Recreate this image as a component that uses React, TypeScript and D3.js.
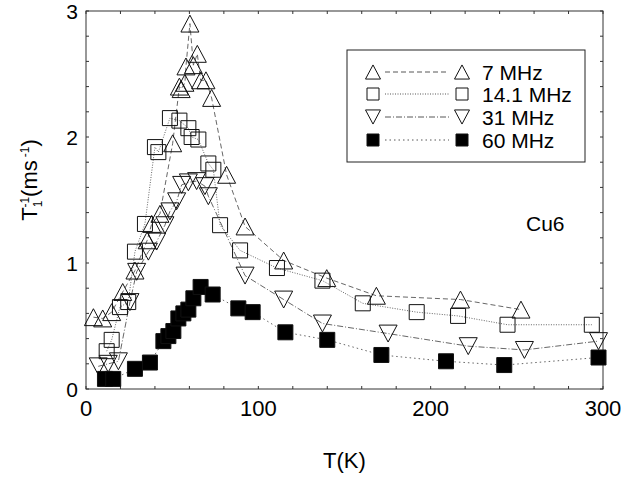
import * as d3 from "d3";
import React, { useEffect, useRef } from "react";

// [T (K), 1/T1 (ms^-1)]
const mhz7: [number, number][] = [
  [4.3, 0.57], [9.7, 0.56], [14.9, 0.61], [21.3, 0.77], [28.4, 0.94], [35.5, 1.18],
  [38.1, 1.31], [42.9, 1.39], [50.3, 1.95], [54.2, 2.4], [55.2, 2.38], [57.4, 2.43],
  [58, 2.56], [60.3, 2.9], [62.3, 2.57], [64.6, 2.66], [66.5, 2.45], [69.6, 2.45],
  [72.9, 2.31], [81.6, 1.7], [92.3, 1.29], [114.7, 1.02], [139.7, 0.88], [168.5, 0.74],
  [217.3, 0.71], [252.4, 0.63],
];
const mhz14: [number, number][] = [
  [12, 0.3], [14.9, 0.39], [19.7, 0.65], [24.5, 0.69], [28.4, 1.09], [34.2, 1.31],
  [40, 1.92], [42, 1.88], [48.7, 2.15], [54.2, 2.13], [59.4, 2.07], [61.3, 2.0],
  [65.2, 1.98], [71, 1.79], [73.9, 1.74], [77.8, 1.3], [89.4, 1.1], [110.8, 0.96],
  [137.2, 0.86], [160.6, 0.68], [191.9, 0.61], [215.9, 0.58], [244.6, 0.51], [293.5, 0.51],
];
const mhz31: [number, number][] = [
  [7.1, 0.18], [12.9, 0.2], [18.8, 0.22], [25.5, 0.69], [29.4, 0.93], [36.2, 1.09],
  [41, 1.17], [45.8, 1.3], [48.7, 1.41], [52.6, 1.49], [55.5, 1.62], [59.4, 1.64],
  [64.2, 1.65], [69, 1.61], [71, 1.53], [92.3, 0.9], [114.7, 0.71], [137.2, 0.52],
  [175.3, 0.44], [221.8, 0.34], [254.4, 0.31], [297.4, 0.38],
];
const mhz60: [number, number][] = [
  [11, 0.08], [15.8, 0.08], [28.4, 0.16], [37.1, 0.21], [44.9, 0.38], [47.8, 0.42],
  [50.7, 0.46], [53.6, 0.56], [56.5, 0.6], [59.4, 0.63], [62.3, 0.72], [66.5, 0.81],
  [73.5, 0.75], [88.4, 0.64], [96.7, 0.61], [115.7, 0.45], [140, 0.39], [171.4, 0.27],
  [208.9, 0.22], [242.7, 0.19], [297.4, 0.25],
];

const seriesNames = ["7 MHz", "14.1 MHz", "31 MHz", "60 MHz"];
const xTicks = [0, 100, 200, 300];
const yTicks = [0, 1, 2, 3];

const font = "Liberation Sans, Arial, sans-serif";

const App = () => {
  const ref = useRef<HTMLDivElement>(null);

  useEffect(() => {
    const width = 622;
    const height = 481;
    const x = d3.scaleLinear().domain([0, 300]).range([86, 603]);
    const y = d3.scaleLinear().domain([0, 3]).range([389, 11]);

    const svg = d3.create("svg")
      .attr("width", width)
      .attr("height", height)
      .style("position", "absolute")
      .style("left", "0px")
      .style("top", "0px")
      .style("background", "#fff");

    // frame with inward ticks on every side
    const frame = svg.append("g").attr("stroke", "#333").attr("stroke-width", 1);
    frame.append("rect")
      .attr("x", x(0)).attr("y", y(3))
      .attr("width", x(300) - x(0)).attr("height", y(0) - y(3))
      .attr("fill", "none");
    const tl = 3;
    d3.range(0, 301, 20).forEach(t => {
      frame.append("line").attr("x1", x(t)).attr("x2", x(t)).attr("y1", y(0)).attr("y2", y(0) - tl);
      frame.append("line").attr("x1", x(t)).attr("x2", x(t)).attr("y1", y(3)).attr("y2", y(3) + tl);
    });
    d3.range(0, 3.01, 0.2).forEach(v => {
      frame.append("line").attr("x1", x(0)).attr("x2", x(0) + tl).attr("y1", y(v)).attr("y2", y(v));
      frame.append("line").attr("x1", x(300)).attr("x2", x(300) - tl).attr("y1", y(v)).attr("y2", y(v));
    });

    // tick labels
    xTicks.forEach(t => {
      svg.append("text")
        .attr("x", x(t)).attr("y", y(0) + 27)
        .attr("text-anchor", "middle")
        .style("font", `22px ${font}`)
        .text(t);
    });
    yTicks.forEach(v => {
      svg.append("text")
        .attr("x", 78).attr("y", y(v) + 8)
        .attr("text-anchor", "end")
        .style("font", `21px ${font}`)
        .text(v);
    });

    // axis titles
    svg.append("text")
      .attr("x", (x(0) + x(300)) / 2).attr("y", 468)
      .attr("text-anchor", "middle")
      .style("font", `22px ${font}`)
      .text("T(K)");

    const yl = svg.append("text")
      .attr("transform", "translate(37,180) rotate(-90)")
      .attr("text-anchor", "middle")
      .style("font", `22px ${font}`);
    yl.append("tspan").text("T");
    yl.append("tspan").attr("dy", 5).style("font-size", "12px").text("1");
    yl.append("tspan").attr("dx", -7).attr("dy", -13).style("font-size", "12px").text("-1");
    yl.append("tspan").attr("dy", 8).text("(ms");
    yl.append("tspan").attr("dx", 3).attr("dy", -8).style("font-size", "12px").text("-1");
    yl.append("tspan").attr("dy", 8).text(")");

    svg.append("text")
      .attr("x", 526).attr("y", 231)
      .style("font", `21px ${font}`)
      .text("Cu6");

    // marker shapes
    const up = (s: number) => `M0,${-s * 0.47}L${s / 2},${s * 0.47}L${-s / 2},${s * 0.47}Z`;
    const down = (s: number) => `M0,${s * 0.47}L${s / 2},${-s * 0.47}L${-s / 2},${-s * 0.47}Z`;
    const square = (s: number) => `M${-s / 2},${-s / 2}h${s}v${s}h${-s}Z`;

    const series = [
      { data: mhz7, shape: up, size: 18, fill: "#fff", dash: "5,3" },
      { data: mhz14, shape: square, size: 15, fill: "#fff", dash: "1,1.5" },
      { data: mhz31, shape: down, size: 18, fill: "#fff", dash: "6,2,1,2" },
      { data: mhz60, shape: square, size: 15, fill: "#000", dash: "1.5,3" },
    ];

    const line = d3.line<[number, number]>()
      .x(d => x(d[0]))
      .y(d => y(d[1]));

    series.forEach(s => {
      const sorted = [...s.data].sort((a, b) => a[0] - b[0]);
      svg.append("path")
        .attr("d", line(sorted))
        .attr("fill", "none")
        .attr("stroke", "#555")
        .attr("stroke-width", 0.9)
        .attr("stroke-dasharray", s.dash);
    });

    series.forEach(s => {
      svg.append("g").selectAll("path")
        .data(s.data)
        .join("path")
        .attr("transform", d => `translate(${x(d[0])},${y(d[1])})`)
        .attr("d", s.shape(s.size))
        .attr("fill", s.fill)
        .attr("fill-opacity", s.fill === "#000" ? 1 : 0)
        .attr("stroke", "#111")
        .attr("stroke-width", 1);
    });

    // legend
    const lg = svg.append("g");
    lg.append("rect")
      .attr("x", 347).attr("y", 50).attr("width", 238).attr("height", 112)
      .attr("fill", "#fff").attr("stroke", "#222");
    const rowY = [72, 94, 117, 140];
    series.forEach((s, i) => {
      const ry = rowY[i];
      lg.append("line")
        .attr("x1", 385).attr("x2", 449).attr("y1", ry).attr("y2", ry)
        .attr("stroke", "#444").attr("stroke-width", 0.9)
        .attr("stroke-dasharray", s.dash);
      [373, 462].forEach(mx => {
        lg.append("path")
          .attr("transform", `translate(${mx},${ry})`)
          .attr("d", s.shape(s.size - 3))
          .attr("fill", s.fill)
          .attr("stroke", "#111");
      });
      lg.append("text")
        .attr("x", 482).attr("y", ry + 8)
        .style("font", `21px ${font}`)
        .text(seriesNames[i]);
    });

    if (ref.current) {
      ref.current.innerHTML = "";
      ref.current.appendChild(svg.node()!);
    }
  }, []);

  return <div ref={ref}></div>;
};

export default App;
